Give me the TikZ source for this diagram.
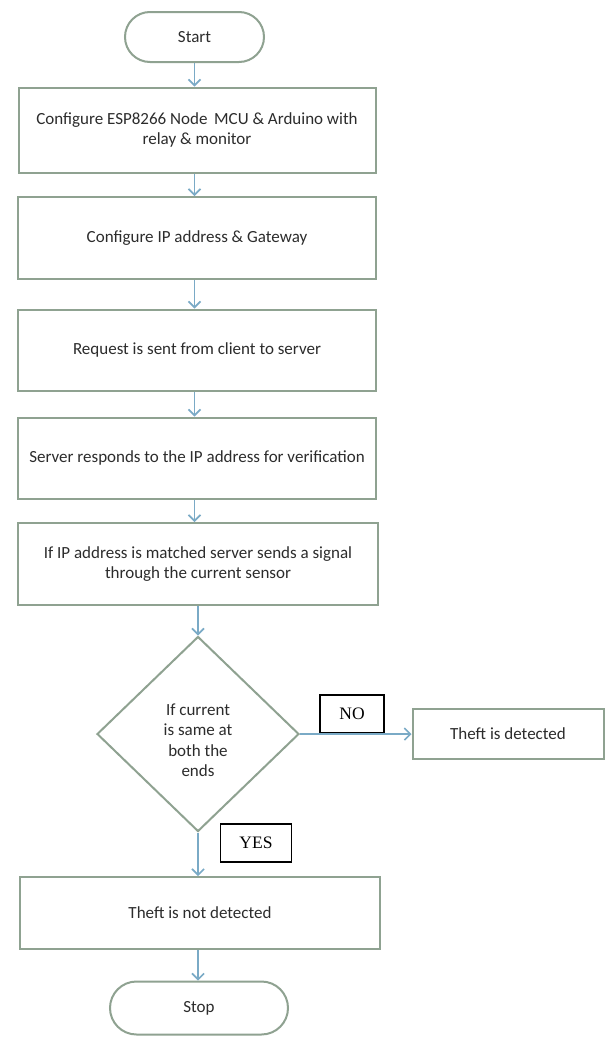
\documentclass[tikz,border=0pt]{standalone}
\usepackage{fontspec}
\setmainfont{Carlito}
\newfontfamily\labelserif{Liberation Serif}
\usetikzlibrary{shapes.misc,shapes.geometric,arrows.meta}
\definecolor{boxline}{HTML}{8FA291}
\definecolor{flowline}{HTML}{7AAAC6}
\definecolor{inktext}{HTML}{2C2C2C}
\tikzset{
  proc/.style={draw=boxline, line width=2pt, fill=white, text=inktext,
    align=center, inner sep=2pt, font=\fontsize{17}{20}\selectfont},
  term/.style={proc, rounded rectangle},
  decide/.style={proc, diamond, inner sep=0pt},
  tag/.style={draw=black, line width=1.7pt, fill=white, text=black,
    inner sep=0pt, font=\labelserif\fontsize{17.5}{19}\selectfont},
  flow/.style={draw=flowline, line width=1.8pt,
    -{Straight Barb[length=6pt,width=12pt,line width=1.6pt]}}
}
\begin{document}
\begin{tikzpicture}[x=1pt,y=-1pt]
\useasboundingbox[fill=white] (0,0) rectangle (613,1039);

% main column
\node[term, minimum width=143pt, minimum height=50pt] (start) at (194.5,37) {Start};
\node[proc, minimum width=357pt, minimum height=85pt] (b1) at (197,130)
  {Configure ESP8266 Node\,\ MCU \& Arduino with\\relay \& monitor};
\node[proc, minimum width=358pt, minimum height=82pt] (b2) at (197,238)
  {Configure IP address \& Gateway};
\node[proc, minimum width=358pt, minimum height=81pt] (b3) at (197,350)
  {Request is sent from client to server};
\node[proc, minimum width=358pt, minimum height=81pt] (b4) at (197,458)
  {Server responds to the IP address for verification};
\node[proc, minimum width=360pt, minimum height=82pt] (b5) at (198,564)
  {If IP address is matched server sends a signal\\through the current sensor};

% decision and its branches
\node[decide, minimum width=202pt, minimum height=195pt] (dec) at (198,734) {};
\node[text=inktext, align=center, font=\fontsize{17}{20.5}\selectfont] (dectext) at (198,740)
  {If current\\is same at\\both the\\ends};
\node[proc, minimum width=191pt, minimum height=50pt] (det) at (508,734) {Theft is detected};
\node[tag, minimum width=64pt, minimum height=38pt] (no) at (352,714) {NO};

\node[proc, minimum width=360pt, minimum height=72pt] (b6) at (200,913)
  {Theft is not detected};
\node[tag, minimum width=71pt, minimum height=38pt] (yes) at (256,843) {YES};
\node[term, minimum width=182pt, minimum height=53pt] (stop) at (199,1008) {Stop};

% connectors
\draw[flow] (start.south) -- (start.south |- b1.north);
\draw[flow] (b1.south -| start.south) -- (start.south |- b2.north);
\draw[flow] (b2.south -| start.south) -- (start.south |- b3.north);
\draw[flow] (b3.south -| start.south) -- (start.south |- b4.north);
\draw[flow] (b4.south -| start.south) -- (start.south |- b5.north);
\draw[flow] (b5.south -| dec.north) -- (dec.north);
\draw[flow] (dec.east) -- (det.west);
\draw[flow] (dec.south) -- (dec.south |- b6.north);
\draw[flow] (b6.south -| dec.south) -- (dec.south |- stop.north);
\end{tikzpicture}
\end{document}
